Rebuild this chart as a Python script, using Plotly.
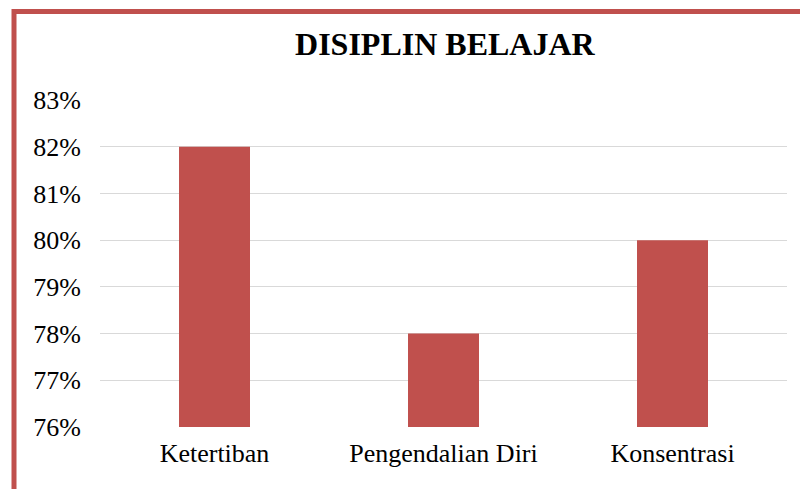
import plotly.graph_objects as go

categories = ["Ketertiban", "Pengendalian Diri", "Konsentrasi"]
values = [0.82, 0.78, 0.80]
tick_vals = [0.76, 0.77, 0.78, 0.79, 0.80, 0.81, 0.82, 0.83]

FONT = "Liberation Serif"
RED = "#C0504D"

fig = go.Figure(go.Bar(x=categories, y=values, marker=dict(color=RED, line=dict(width=0))))

W, H = 800, 489
L, R, T, B = 100, 13, 100, 62
pw, ph = W - L - R, H - T - B

def px2x(px):
    return (px - L) / pw

def py2y(py):
    return (H - B - py) / ph

fig.update_layout(
    width=W, height=H,
    margin=dict(l=L, r=R, t=T, b=B),
    paper_bgcolor="white", plot_bgcolor="white",
    bargap=0.69,
    showlegend=False,
    title=dict(text="<b>DISIPLIN BELAJAR</b>", x=0.502, xref="paper", xanchor="center",
               y=1 - 44 / H, yref="container", yanchor="middle",
               font=dict(family=FONT, size=32, color="black")),
    font=dict(family=FONT, size=26, color="black"),
    xaxis=dict(showline=False, showgrid=False, ticks="", tickfont=dict(size=26, family=FONT, color="black"),
               ticklabelstandoff=8),
    yaxis=dict(range=[0.76, 0.83], tickvals=tick_vals, tickformat=".0%", showgrid=True,
               gridcolor="#D9D9D9", gridwidth=1.3, zeroline=False, showline=False,
               tickfont=dict(size=26, family=FONT, color="black"), ticklabelstandoff=18),
    shapes=[
        dict(type="line", xref="paper", yref="paper", x0=px2x(14), x1=px2x(14), y0=py2y(9), y1=py2y(520),
             line=dict(color=RED, width=5)),
        dict(type="line", xref="paper", yref="paper", x0=px2x(12), x1=px2x(830), y0=py2y(11.5), y1=py2y(11.5),
             line=dict(color=RED, width=5)),
    ],
)

fig.write_html("out.html", config={"displayModeBar": False},
               post_script="document.body.style.margin='0';document.body.style.padding='0';")
